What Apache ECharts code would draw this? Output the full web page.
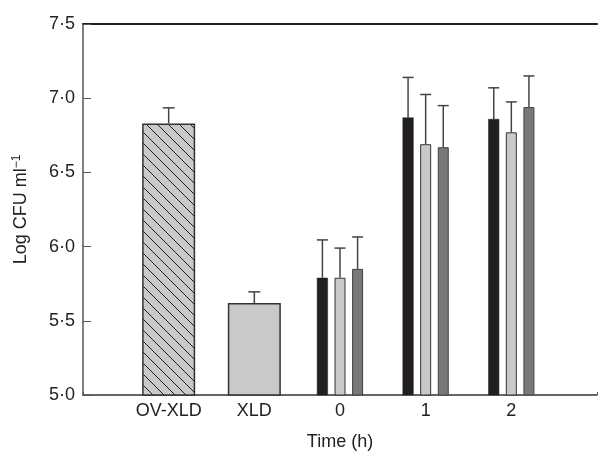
<!DOCTYPE html>
<html><head><meta charset="utf-8">
<script src="https://cdn.jsdelivr.net/npm/echarts@6/dist/echarts.min.js"></script>
<style>html,body{margin:0;padding:0;background:#fff}#c{width:600px;height:456px}</style>
</head><body><div id="c"></div>
<script>
// ---- data ----
const categories = ['', 'OV-XLD', 'XLD', '0', '1', '2', ''];
const singleValues = ['-', 6.83, 5.62, '-', '-', '-', '-'];
const singleErrTop = ['-', 6.935, 5.695, '-', '-', '-', '-'];
const blackValues = ['-', '-', '-', 5.79, 6.87, 6.86, '-'];
const blackErrTop = ['-', '-', '-', 6.045, 7.14, 7.07, '-'];
const lightValues = ['-', '-', '-', 5.79, 6.69, 6.77, '-'];
const lightErrTop = ['-', '-', '-', 5.99, 7.025, 6.975, '-'];
const darkValues  = ['-', '-', '-', 5.85, 6.67, 6.94, '-'];
const darkErrTop  = ['-', '-', '-', 6.065, 6.95, 7.15, '-'];
const yTicks = [5.0, 5.5, 6.0, 6.5, 7.0, 7.5];

// ---- styling ----
const FONT = 'Liberation Sans, Arial, sans-serif';
const FS = 18;
const GROUP_BAR_W = 11, GROUP_GAP = 0.6;
const groupStep = GROUP_BAR_W * (1 + GROUP_GAP);

function hatch() {
  const s = 11, c = document.createElement('canvas');
  c.width = s; c.height = s;
  const g = c.getContext('2d');
  g.fillStyle = '#c8c9cb'; g.fillRect(0, 0, s, s);
  g.strokeStyle = '#231f20'; g.lineWidth = 1;
  g.beginPath();
  g.moveTo(-2, -2); g.lineTo(s + 2, s + 2);
  g.moveTo(-2, s - 2); g.lineTo(2, s + 2);
  g.moveTo(s - 2, -2); g.lineTo(s + 2, 2);
  g.stroke();
  return c;
}

// error-bar items: [categoryIndex, barTop, errTop, offsetPx, capWidth]
const errData = [];
function addErr(vals, tops, off, cap) {
  vals.forEach((v, i) => { if (v !== '-') errData.push([i, v, tops[i], off, cap]); });
}
addErr(singleValues, singleErrTop, 0, 12);
addErr(blackValues, blackErrTop, -groupStep, 11);
addErr(lightValues, lightErrTop, 0, 11);
addErr(darkValues, darkErrTop, groupStep, 11);

const chart = echarts.init(document.getElementById('c'), null, {renderer: 'canvas'});
const singleColors = [null, {image: hatch(), repeat: 'repeat'}, '#c8c9cb'];
chart.setOption({
  animation: false,
  grid: {left: 83, top: 24, width: 519, bottom: 58, containLabel: false},
  xAxis: [{
    type: 'category', data: categories, boundaryGap: false, position: 'bottom',
    axisLine: {lineStyle: {color: '#333', width: 1.5}},
    axisTick: {inside: true, length: 3, lineStyle: {color: '#555'}},
    axisLabel: {color: '#222', fontFamily: FONT, fontSize: FS, margin: 7, interval: 0},
    name: 'Time (h)', nameLocation: 'middle', nameGap: 38,
    nameTextStyle: {color: '#222', fontFamily: FONT, fontSize: FS},
    splitLine: {show: false}
  }, {
    type: 'category', data: categories, boundaryGap: false, position: 'top',
    axisLine: {lineStyle: {color: '#231f20', width: 2}},
    axisTick: {show: false}, axisLabel: {show: false}, splitLine: {show: false}
  }],
  yAxis: {
    type: 'value', min: 5, max: 7.5, interval: 0.5,
    axisLine: {show: true, lineStyle: {color: '#555', width: 1.5}},
    axisTick: {show: true, inside: true, length: 8, lineStyle: {color: '#555'}},
    splitLine: {show: false},
    axisLabel: {color: '#222', fontFamily: FONT, fontSize: FS, margin: 8,
      formatter: v => yTicks.includes(+v.toFixed(1)) ? v.toFixed(1).replace('.', '\u00b7') : ''},
    name: 'Log CFU ml{sup|\u22121}', nameLocation: 'middle', nameGap: 51, nameRotate: 90,
    nameTextStyle: {color: '#222', fontFamily: FONT, fontSize: FS,
      rich: {sup: {fontFamily: FONT, fontSize: 12, verticalAlign: 'top', padding: [0, 0, 9, 0], color: '#222'}}}
  },
  series: [{
    type: 'bar', xAxisIndex: 0, data: singleValues, barWidth: 53,
    itemStyle: {
      color: p => singleColors[p.dataIndex] || '#c8c9cb',
      borderColor: '#333', borderWidth: 1.5
    }
  }, {
    type: 'bar', xAxisIndex: 1, data: blackValues, barWidth: GROUP_BAR_W, barGap: (GROUP_GAP * 100) + '%',
    itemStyle: {color: '#231f20', borderColor: '#231f20', borderWidth: 0.5}
  }, {
    type: 'bar', xAxisIndex: 1, data: lightValues, barWidth: GROUP_BAR_W, barGap: (GROUP_GAP * 100) + '%',
    itemStyle: {color: '#c8c9cb', borderColor: '#333', borderWidth: 1}
  }, {
    type: 'bar', xAxisIndex: 1, data: darkValues, barWidth: GROUP_BAR_W, barGap: (GROUP_GAP * 100) + '%',
    itemStyle: {color: '#77787b', borderColor: '#444', borderWidth: 1}
  }, {
    type: 'custom', xAxisIndex: 0, data: errData, z: 1,
    renderItem: (params, api) => {
      const base = api.coord([api.value(0), api.value(1)]);
      const top = api.coord([api.value(0), api.value(2)]);
      const x = base[0] + api.value(3);
      const h = api.value(4) / 2;
      const st = {stroke: '#444', lineWidth: 1.5};
      return {type: 'group', children: [
        {type: 'line', shape: {x1: x, y1: base[1], x2: x, y2: top[1]}, style: st},
        {type: 'line', shape: {x1: x - h, y1: top[1], x2: x + h, y2: top[1]}, style: st}
      ]};
    }
  }]
});
</script></body></html>
